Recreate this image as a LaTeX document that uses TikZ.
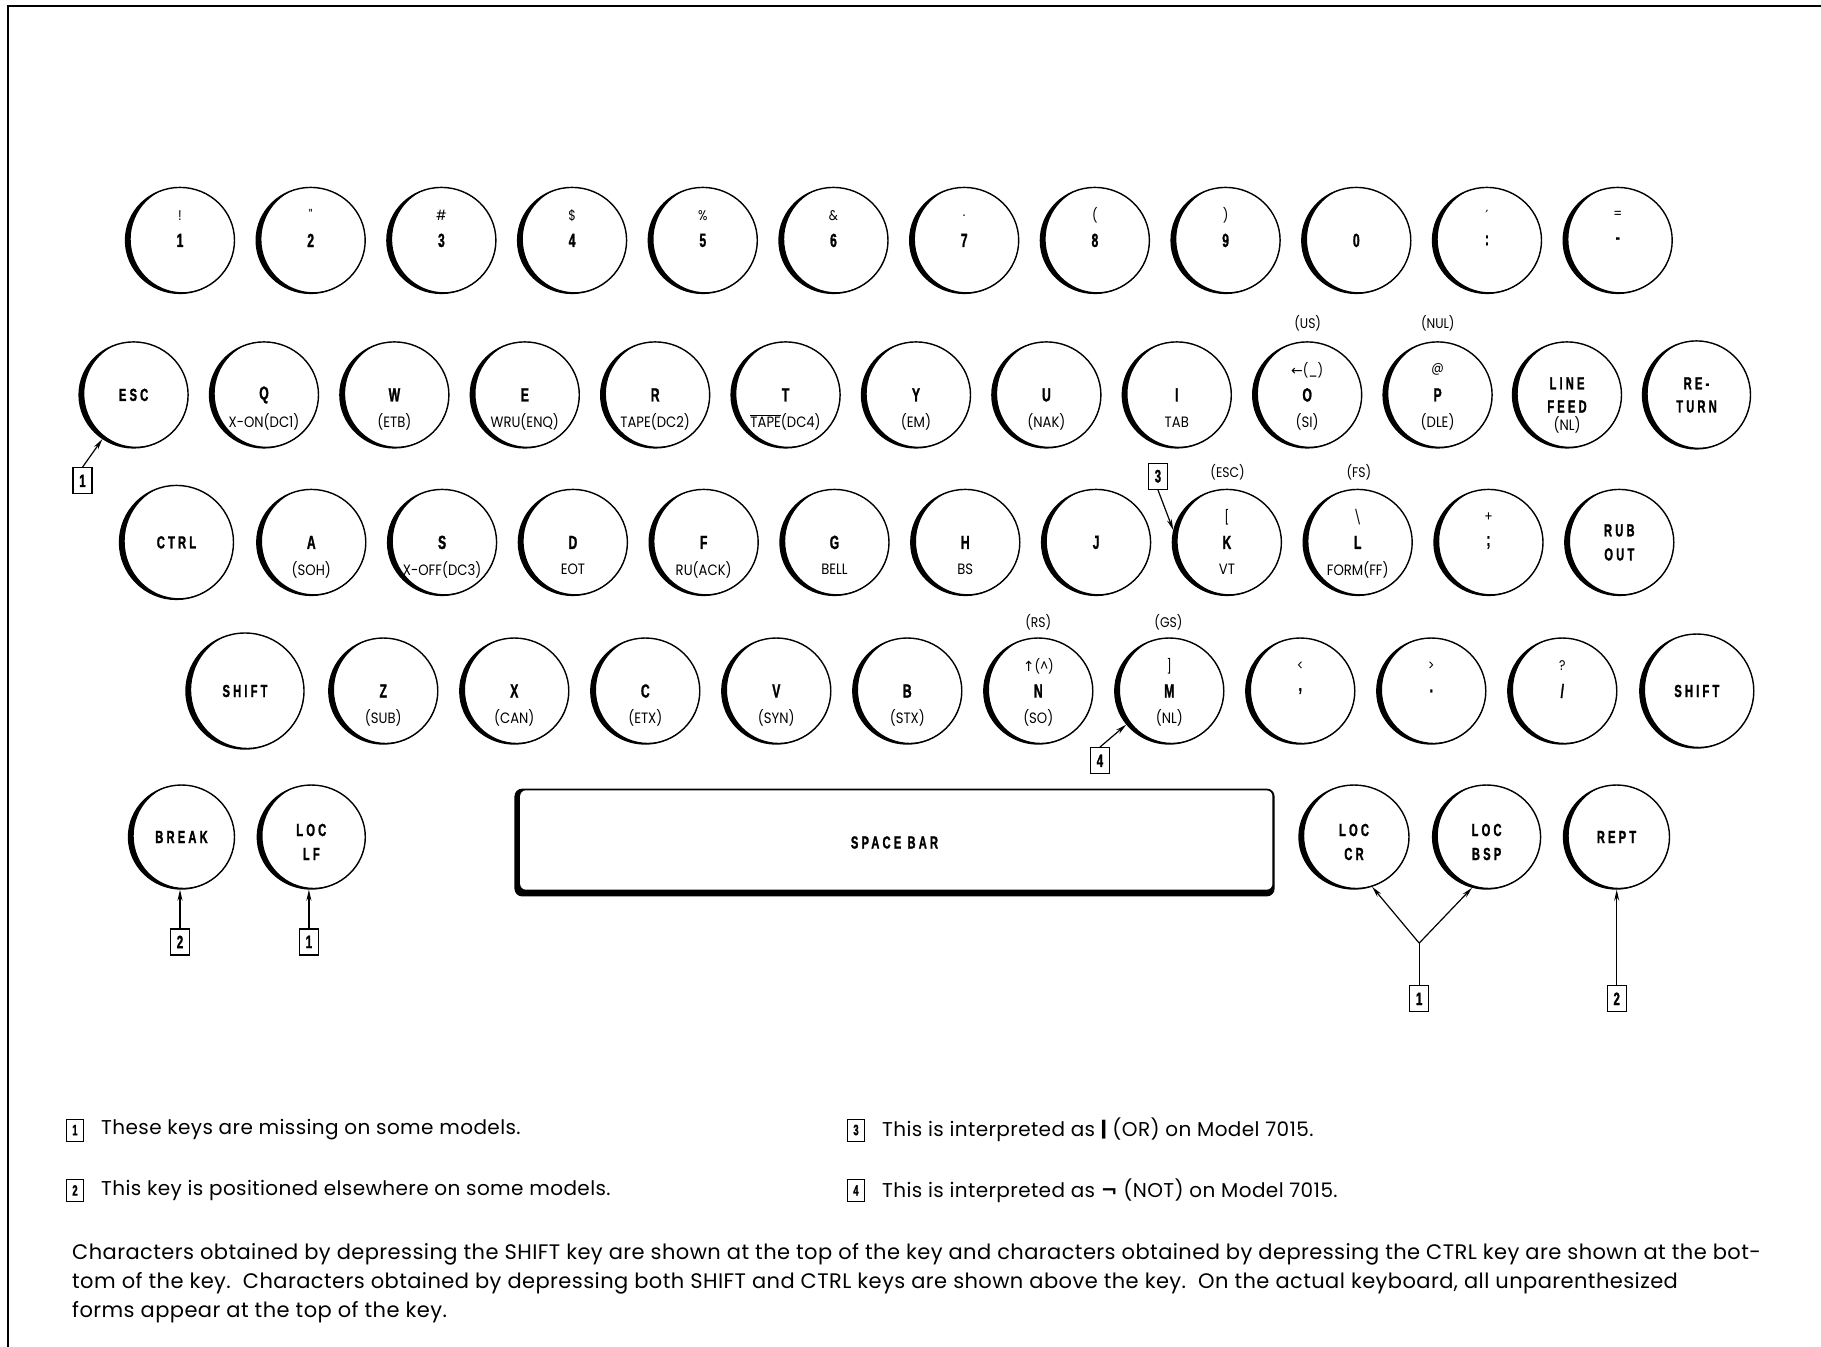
\documentclass[tikz,border=0pt]{standalone}
\usepackage{fontspec}
\setmainfont{Poppins}
\newfontfamily\keyfont[FakeStretch=0.64,FakeBold=1.2]{Liberation Sans}
\newfontfamily\keyfontsp[FakeStretch=0.64,FakeBold=1.2,LetterSpace=18]{Liberation Sans}
\newfontfamily\labfont[FakeStretch=0.88]{Poppins}
\newfontfamily\bodyfont[LetterSpace=2]{Poppins}
\newfontfamily\symfont{DejaVu Sans}
\usetikzlibrary{shapes.geometric,arrows.meta,calc}
\tikzset{
  kcap/.style 2 args={ellipse, draw, line width=1.4pt, inner sep=0pt,
    minimum width=2*#1 pt, minimum height=2*#2 pt,
    path picture={\fill[even odd rule]
      (path picture bounding box.south west) rectangle (path picture bounding box.north east)
      ([shift={(2.6pt,1.2pt)}]path picture bounding box.center) ellipse [x radius={#1pt-2.6pt}, y radius=#2pt];}},
  kn/.style={kcap={54.5}{53}},
  kw/.style={kcap={58}{57}},
  keymain/.style={inner sep=0pt, font=\keyfont\bfseries\fontsize{19}{19}\selectfont},
  keyword/.style={inner sep=0pt, font=\keyfontsp\bfseries\fontsize{17.5}{17.5}\selectfont},
  keytop/.style={inner sep=0pt, font=\labfont\fontsize{14}{14}\selectfont},
  keybot/.style={inner sep=0pt, font=\labfont\fontsize{15}{15}\selectfont},
  above/.style={inner sep=0pt, font=\labfont\fontsize{14}{14}\selectfont},
  fnbox/.style={draw, line width=1.2pt, minimum width=19pt, minimum height=26pt, inner sep=0pt,
    font=\keyfont\bfseries\fontsize{18}{18}\selectfont},
  lgbox/.style={draw, line width=1pt, minimum width=17pt, minimum height=22pt, inner sep=0pt,
    font=\keyfont\bfseries\fontsize{15}{15}\selectfont},
  lgtext/.style={anchor=west, inner sep=0pt, font=\bodyfont\fontsize{20}{20}\selectfont},
  bodytext/.style={anchor=west, inner sep=0pt, font=\bodyfont\fontsize{21}{21}\selectfont},
  arr/.style={line width=1.2pt, -{Stealth[length=11pt,width=5pt]}},
}
\newcommand\kbd[7]{%
  \node[#4] (#1) at (#2,#3) {};
  \if\relax\detokenize{#5}\relax\else\node[keymain] (#1m) at (#1.center) {#5};\fi
  \if\relax\detokenize{#6}\relax\else\node[keytop] (#1t) at ([yshift=25pt]#1.center) {#6};\fi
  \if\relax\detokenize{#7}\relax\else\node[keybot] (#1b) at ([yshift=-27pt]#1.center) {#7};\fi
}
\begin{document}
\begin{tikzpicture}[x=1pt,y=-1pt]
\useasboundingbox (0,0) rectangle (1821,1347);
\fill[white] (0,0) rectangle (1821,1347);
\draw[line width=2.5pt] (8,1400) -- (8,6) -- (1900,6);
% row 1
\kbd{k1}{180.0}{240.4}{kn}{1}{!}{}
\kbd{k2}{310.7}{240.4}{kn}{2}{"}{}
\kbd{k3}{441.4}{240.4}{kn}{3}{\#}{}
\kbd{k4}{572.1}{240.4}{kn}{4}{\$}{}
\kbd{k5}{702.8}{240.4}{kn}{5}{\%}{}
\kbd{k6}{833.5}{240.4}{kn}{6}{\&}{}
\kbd{k7}{964.2}{240.4}{kn}{7}{.}{}
\kbd{k8}{1094.9}{240.4}{kn}{8}{(}{}
\kbd{k9}{1225.6}{240.4}{kn}{9}{)}{}
\kbd{k0}{1356.3}{240.4}{kn}{0}{}{}
\kbd{kcolon}{1487.0}{240.4}{kn}{:}{{\symfont ′}}{}
\kbd{kminus}{1617.7}{240.4}{kn}{-}{=}{}
% row 2
\kbd{kesc}{133.6}{394.9}{kn}{}{}{}
\node[keyword] (kescm) at (kesc.center) {ESC};
\kbd{kq}{264.0}{394.9}{kn}{Q}{}{X-ON(DC1)}
\kbd{kw}{394.4}{394.9}{kn}{W}{}{(ETB)}
\kbd{ke}{524.8}{394.9}{kn}{E}{}{WRU(ENQ)}
\kbd{kr}{655.2}{394.9}{kn}{R}{}{TAPE(DC2)}
\kbd{kt}{785.6}{394.9}{kn}{T}{}{$\overline{\hbox{TAPE}}$(DC4)}
\kbd{ky}{916.0}{394.9}{kn}{Y}{}{(EM)}
\kbd{ku}{1046.4}{394.9}{kn}{U}{}{(NAK)}
\kbd{ki}{1176.8}{394.9}{kn}{I}{}{TAB}
\kbd{ko}{1307.2}{394.9}{kn}{O}{{\symfont ←}(\_)}{(SI)}
\kbd{kp}{1437.6}{394.9}{kn}{P}{@}{(DLE)}
\node[above] (aus) at (1307.7,322.9) {(US)};
\node[above] (anul) at (1437.8,322.9) {(NUL)};
\kbd{klf}{1567.0}{394.9}{kn}{}{}{}
\node[keyword] (klf1) at ([yshift=11.6pt]klf.center) {LINE};
\node[keyword] (klf2) at ([yshift=-11.6pt]klf.center) {FEED};
\node[keybot] (klf3) at ([yshift=-30pt]klf.center) {(NL)};
\kbd{kret}{1696.5}{394.9}{kcap={54}{54}}{}{}{}
\node[keyword] (kret1) at ([yshift=11.6pt]kret.center) {RE-};
\node[keyword] (kret2) at ([yshift=-11.6pt]kret.center) {TURN};
% row 3
\kbd{kctrl}{176.5}{542.4}{kcap={57}{57}}{}{}{}
\node[keyword] (kctrlm) at (kctrl.center) {CTRL};
\kbd{ka}{311.3}{542.4}{kn}{A}{}{(SOH)}
\kbd{ks}{442.1}{542.4}{kn}{S}{}{X-OFF(DC3)}
\kbd{kd}{572.9}{542.4}{kn}{D}{}{EOT}
\kbd{kf}{703.7}{542.4}{kn}{F}{}{RU(ACK)}
\kbd{kg}{834.5}{542.4}{kn}{G}{}{BELL}
\kbd{kh}{965.3}{542.4}{kn}{H}{}{BS}
\kbd{kj}{1096.1}{542.4}{kn}{J}{}{}
\kbd{kk}{1226.9}{542.4}{kn}{K}{[}{VT}
\kbd{kl}{1357.7}{542.4}{kn}{L}{\textbackslash}{FORM(FF)}
\kbd{ksemi}{1488.5}{542.4}{kn}{;}{+}{}
\node[above] (aesc) at (1227.6,472.7) {(ESC)};
\node[above] (afs) at (1358.8,472.7) {(FS)};
\kbd{krub}{1619.3}{542.4}{kn}{}{}{}
\node[keyword] (krub1) at ([yshift=12pt]krub.center) {RUB};
\node[keyword] (krub2) at ([yshift=-12pt]krub.center) {OUT};
% row 4
\kbd{kshl}{245.0}{691.0}{kcap={59}{58}}{}{}{}
\node[keyword] (kshlm) at (kshl.center) {SHIFT};
\kbd{kz}{383.3}{691.0}{kn}{Z}{}{(SUB)}
\kbd{kx}{514.3}{691.0}{kn}{X}{}{(CAN)}
\kbd{kc}{645.3}{691.0}{kn}{C}{}{(ETX)}
\kbd{kv}{776.3}{691.0}{kn}{V}{}{(SYN)}
\kbd{kb}{907.3}{691.0}{kn}{B}{}{(STX)}
\kbd{kn}{1038.3}{691.0}{kn}{N}{{\symfont ↑}(\^{})}{(SO)}
\kbd{km}{1169.3}{691.0}{kn}{M}{]}{(NL)}
\kbd{kcomma}{1300.3}{691.0}{kn}{,}{<}{}
\kbd{kdot}{1431.3}{691.0}{kn}{.}{>}{}
\kbd{kslash}{1562.3}{691.0}{kn}{/}{?}{}
\node[above] (ars) at (1038.3,622.5) {(RS)};
\node[above] (ags) at (1168.4,622.5) {(GS)};
\kbd{kshr}{1696.8}{691.0}{kcap={57}{57}}{}{}{}
\node[keyword] (kshrm) at (kshr.center) {SHIFT};
% row 5
\kbd{kbreak}{181.5}{837.0}{kcap={53}{52}}{}{}{}
\node[keyword] (kbreakm) at (kbreak.center) {BREAK};
\kbd{kloclf}{311.3}{837.0}{kcap={54}{52}}{}{}{}
\node[keyword] (kloclf1) at ([yshift=7pt]kloclf.center) {LOC};
\node[keyword] (kloclf2) at ([yshift=-17pt]kloclf.center) {LF};
\kbd{kloccr}{1354.0}{837.0}{kcap={55}{52}}{}{}{}
\node[keyword] (kloccr1) at ([yshift=7pt]kloccr.center) {LOC};
\node[keyword] (kloccr2) at ([yshift=-17pt]kloccr.center) {CR};
\kbd{klocbsp}{1486.6}{837.0}{kcap={54}{52}}{}{}{}
\node[keyword] (klocbsp1) at ([yshift=7pt]klocbsp.center) {LOC};
\node[keyword] (klocbsp2) at ([yshift=-17pt]klocbsp.center) {BSP};
\kbd{krept}{1616.5}{837.0}{kcap={53}{52}}{}{}{}
\node[keyword] (kreptm) at (krept.center) {REPT};
% space bar
\node[minimum width=758.4pt, minimum height=106pt, inner sep=0pt] (space) at (894.5,842.5) {};
\fill[rounded corners=7pt] (space.south west) rectangle (space.north east);
\fill[white, rounded corners=6pt] ([xshift=5pt,yshift=6pt]space.south west) rectangle ([xshift=-1.5pt,yshift=-1pt]space.north east);
\draw[line width=1.3pt, rounded corners=7pt] (space.south west) rectangle (space.north east);
\node[keyword] (spacem) at (space.center) {SPACE BAR};
% footnote boxes and arrows
\node[fnbox] (fesc) at (82.5,480.8) {1};
\draw[arr] (fesc.north) -- (kesc);
\node[fnbox] (fk) at (1157.9,476.2) {3};
\draw[arr] (fk.south) -- (kk.167);
\node[fnbox] (fm) at (1099.9,760.7) {4};
\draw[arr] (fm.north) -- (km.218);
\node[fnbox] (fbreak) at (180.0,941.9) {2};
\draw[arr] (fbreak.north) -- (fbreak.north |- kbreak.south);
\node[fnbox] (flf) at (308.9,941.9) {1};
\draw[arr] (flf.north) -- (flf.north |- kloclf.south);
\node[fnbox] (floc) at (1419.2,998.8) {1};
\coordinate (jn) at (1419.2,943.1);
\draw[line width=1.2pt] (floc.north) -- (jn);
\draw[arr] (jn) -- (kloccr.290);
\draw[arr] (jn) -- (klocbsp.254);
\node[fnbox] (frept) at (1616.7,998.8) {2};
\draw[arr] (frept.north) -- (frept.north |- krept.south);
% legend
\node[lgbox] (l1) at (75,1130) {1};
\node[lgtext] (l1t) at (101,1130) {These keys are missing on some models.};
\node[lgbox] (l2) at (75,1190.4) {2};
\node[lgtext] (l2t) at (101,1190.4) {This key is positioned elsewhere on some models.};
\node[lgbox] (l3) at (856,1130) {3};
\node[lgtext] (l3t) at (882,1130) {This is interpreted as {\bfseries |} (OR) on Model 7015.};
\node[lgbox] (l4) at (856,1190.4) {4};
\node[lgtext] (l4t) at (882,1190.4) {This is interpreted as {\symfont\bfseries ¬} (NOT) on Model 7015.};
\node[bodytext] (p1) at (72,1254.3) {Characters obtained by depressing the SHIFT key are shown at the top of the key and characters obtained by depressing the CTRL key are shown at the bot-};
\node[bodytext] (p2) at (72,1283.3) {tom of the key.\ \ Characters obtained by depressing both SHIFT and CTRL keys are shown above the key.\ \ On the actual keyboard, all unparenthesized};
\node[bodytext] (p3) at (72,1312.4) {forms appear at the top of the key.};
\end{tikzpicture}
\end{document}
